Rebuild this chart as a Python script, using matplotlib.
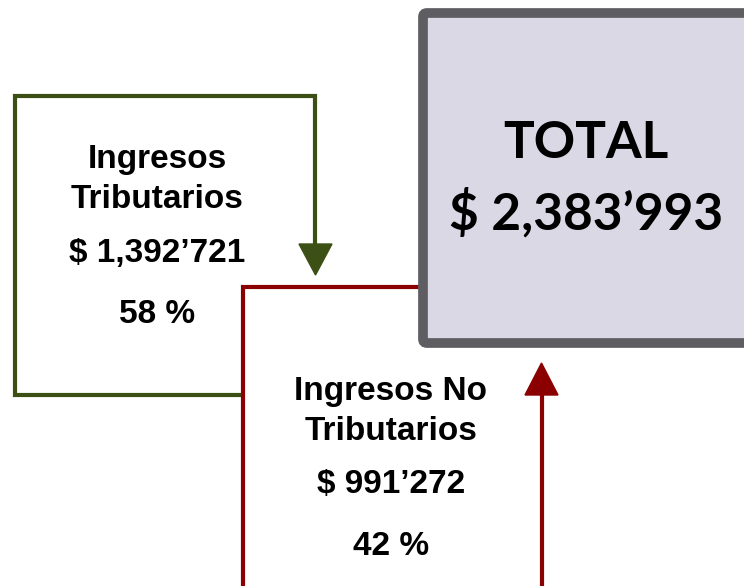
import matplotlib.pyplot as plt
from matplotlib.patches import FancyBboxPatch, Polygon

# labels shown in the diagram
trib_lines = ['Ingresos', 'Tributarios', '$ 1,392\u2019721', '58 %']
notrib_lines = ['Ingresos No', 'Tributarios', '$ 991\u2019272', '42 %']
total_lines = ['TOTAL', '$ 2,383\u2019993']

green = '#3c5016'
red = '#8b0000'
gray_edge = '#5e5d62'
gray_fill = '#d9d8e4'

fig = plt.figure(figsize=(7.44, 5.86), dpi=100)
ax = fig.add_axes([0, 0, 1, 1])
ax.set_xlim(0, 744)
ax.set_ylim(586, 0)
ax.axis('off')

# green box (tributarios) with arrow going down
ax.plot([243, 15, 15, 315, 315], [395, 395, 96, 96, 246], color=green, lw=3.0,
        solid_joinstyle='miter', solid_capstyle='butt', zorder=2)
ax.add_patch(Polygon([[299, 244], [332, 244], [315.5, 275]], closed=True,
                     color=green, zorder=2))

# red box (no tributarios) with arrow going up
ax.plot([430, 243, 243], [287, 287, 590], color=red, lw=3.0,
        solid_joinstyle='miter', solid_capstyle='butt', zorder=3)
ax.plot([542, 542], [590, 392], color=red, lw=3.0, solid_capstyle='butt', zorder=3)
ax.add_patch(Polygon([[525, 395], [558, 395], [541.5, 363]], closed=True,
                     color=red, zorder=3))

# total box
ax.add_patch(FancyBboxPatch((423, 13), 340, 330,
                            boxstyle='round,pad=0,rounding_size=4',
                            facecolor=gray_fill, edgecolor=gray_edge, lw=7, zorder=4))

font = 'Liberation Sans'
for txt, y in zip(trib_lines, [168, 208, 262, 323]):
    ax.text(157, y, txt, ha='center', va='baseline', fontsize=24, fontweight='bold',
            family=font, zorder=5)
for txt, y in zip(notrib_lines, [400, 440, 493, 555]):
    ax.text(391, y, txt, ha='center', va='baseline', fontsize=24, fontweight='bold',
            family=font, zorder=5)
for txt, y in zip(total_lines, [158, 230]):
    ax.text(586, y, txt, ha='center', va='baseline', fontsize=37, fontweight='bold',
            family='Lato', zorder=5)

fig.savefig('out.png', dpi=100)
